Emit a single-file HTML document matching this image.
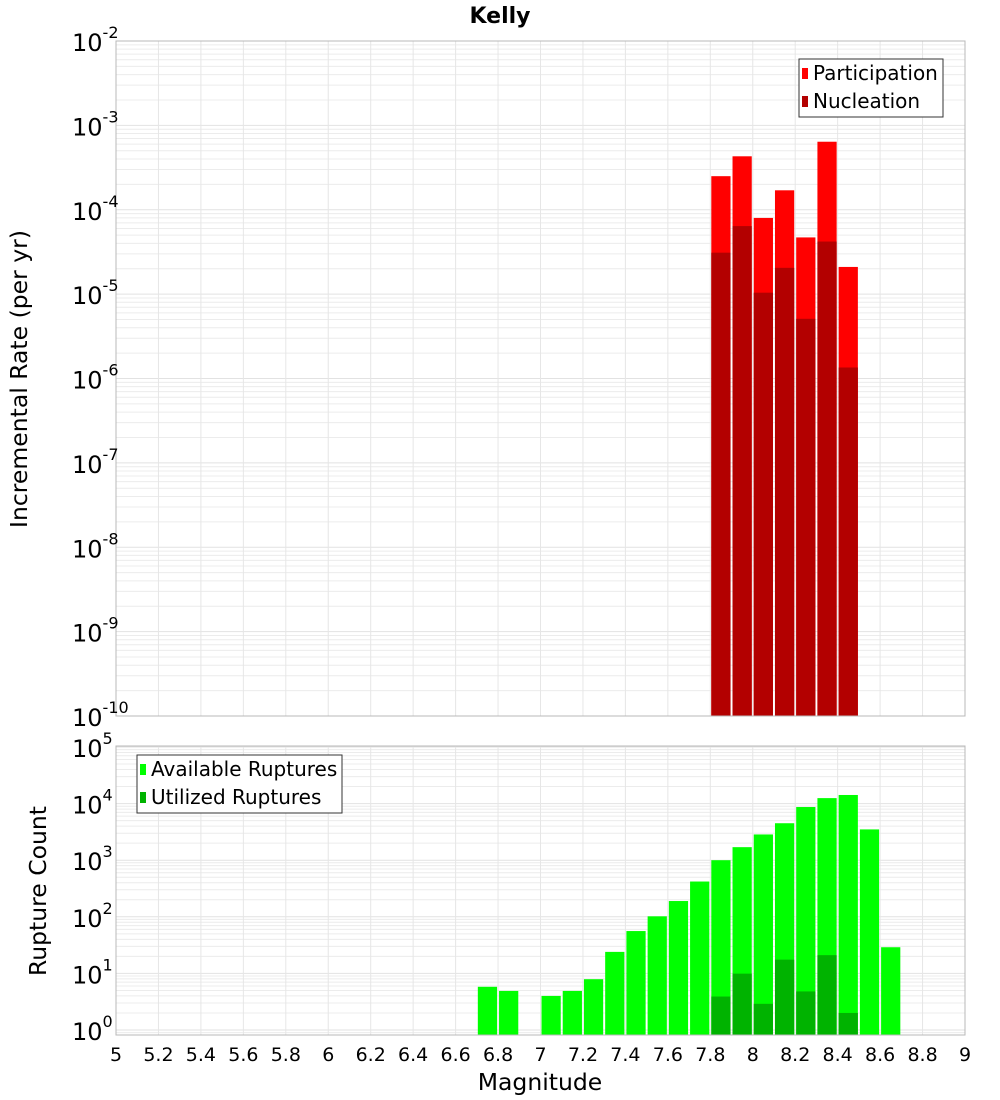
<!DOCTYPE html>
<html><head><meta charset="utf-8"><style>
body{margin:0;background:#fff;}
svg{display:block;font-family:"DejaVu Sans","Liberation Sans",sans-serif;}
</style></head><body>
<svg id="c" width="1000" height="1100" xmlns="http://www.w3.org/2000/svg"></svg>
<script>
const bins = [6.7,6.8,6.9,7.0,7.1,7.2,7.3,7.4,7.5,7.6,7.7,7.8,7.9,8.0,8.1,8.2,8.3,8.4,8.5,8.6];
const topBins = [7.8,7.9,8.0,8.1,8.2,8.3,8.4];
const participation = [2.5e-4,4.3e-4,8.0e-5,1.7e-4,4.7e-5,6.4e-4,2.1e-5];
const nucleation = [3.1e-5,6.4e-5,1.04e-5,2.05e-5,5.1e-6,4.2e-5,1.35e-6];
const available = [5.8,4.9,0,4.0,4.9,7.9,24,56,102,190,420,1000,1700,2850,4500,8700,12500,14200,3500,29];
const utilized = [0,0,0,0,0,0,0,0,0,0,0,3.9,9.9,2.9,17.5,4.8,21,2.0,0,0];
const xTicks = ["5","5.2","5.4","5.6","5.8","6","6.2","6.4","6.6","6.8","7","7.2","7.4","7.6","7.8","8","8.2","8.4","8.6","8.8","9"];
const topExp = [-2,-3,-4,-5,-6,-7,-8,-9,-10];
const botExp = [5,4,3,2,1,0];

const NS="http://www.w3.org/2000/svg", svg=document.getElementById('c');
function el(t,a,p){const e=document.createElementNS(NS,t);for(const k in a)e.setAttribute(k,a[k]);(p||svg).appendChild(e);return e;}
const L=116,R=965;
const X=v=>L+(v-5)*(R-L)/4;
const T0=41,T1=716,Yt=v=>T0+(-2-Math.log10(v))*(T1-T0)/8;
const B0=747,B1=1035,DP=56.6,Yb=v=>B0+(5-Math.log10(v))*DP;

function grid(top,bot,yf,emax,emin,name){
  const g=el('g',{});  
  for(let e=emin-1;e<=emax;e++)for(let m=1;m<10;m++){const y=yf(m*Math.pow(10,e));if(y<top-0.1||y>bot+0.1)continue;
    el('line',{x1:L,x2:R,y1:y,y2:y,stroke:m==1?'#e2e2e2':'#ececec','stroke-width':1},g);}
  for(let i=0;i<xTicks.length;i++){const x=X(+xTicks[i]);el('line',{x1:x,x2:x,y1:top,y2:bot,stroke:'#e6e6e6'},g);}
}
grid(T0,T1,Yt,-2,-10,'top-grid');
grid(B0-1,B1,Yb,5,-1,'bottom-grid');

const bw=(X(5.1)-X(5))-2;
function bars(xs,vals,yf,base,col,name){
  const g=el('g',{});  
  xs.forEach((b,i)=>{if(!vals[i])return;const y=Math.max(yf(vals[i]),0);
    const r=el('rect',{x:X(b)+1,y:y,width:bw,height:base-y,fill:col},g);
    });
}
bars(topBins,participation,Yt,T1,'#ff0000','participation');
bars(topBins,nucleation,Yt,T1,'#b30000','nucleation');
bars(bins,available,Yb,B1,'#00ff00','available');
bars(bins,utilized,Yb,B1,'#00b300','utilized');

el('rect',{x:L,y:T0,width:R-L,height:T1-T0,fill:'none',stroke:'#b8b8b8',});
el('rect',{x:L,y:B0-1,width:R-L,height:B1-B0+1,fill:'none',stroke:'#b8b8b8',});

function ylab(e,y,name){const t=el('text',{x:72,y:y+10,'font-size':24,fill:'#000'});
  t.textContent='10';const s=el('tspan',{dy:-13,'font-size':16},t);s.textContent=String(e);}
topExp.forEach(e=>ylab(e,Yt(Math.pow(10,e)),'y-tick-top'));
botExp.forEach(e=>ylab(e,Yb(Math.pow(10,e)),'y-tick-bottom'));
xTicks.forEach(s=>{const t=el('text',{x:X(+s),y:1061,'font-size':19,'text-anchor':'middle'});t.textContent=s;});

function txt(s,a,name){const t=el('text',a);t.textContent=s;return t;}
txt('Kelly',{x:500,y:23,'font-size':22,'font-weight':'bold','text-anchor':'middle'},'chart-title');
txt('Magnitude',{x:540,y:1090,'font-size':23.5,'text-anchor':'middle'},'x-axis-title');
txt('Incremental Rate (per yr)',{x:0,y:0,'font-size':23.5,'text-anchor':'middle',transform:'translate(27,379) rotate(-90)'},'y-axis-title-top');
txt('Rupture Count',{x:0,y:0,'font-size':23.5,'text-anchor':'middle',transform:'translate(46,891) rotate(-90)'},'y-axis-title-bottom');

function legend(x,y,w,items,name){const g=el('g',{});
  el('rect',{x:x,y:y,width:w,height:58,fill:'#fff',stroke:'#333'},g);
  items.forEach((it,i)=>{el('rect',{x:x+3,y:y+9+i*28,width:6,height:11,fill:it[1]},g);
    const t=el('text',{x:x+14,y:y+21+i*28,'font-size':20},g);t.textContent=it[0];});}
legend(799,59,144,[['Participation','#ff0000'],['Nucleation','#b30000']],'top-legend');
legend(137,755,205,[['Available Ruptures','#00ff00'],['Utilized Ruptures','#00b300']],'bottom-legend');
</script>
</body></html>
